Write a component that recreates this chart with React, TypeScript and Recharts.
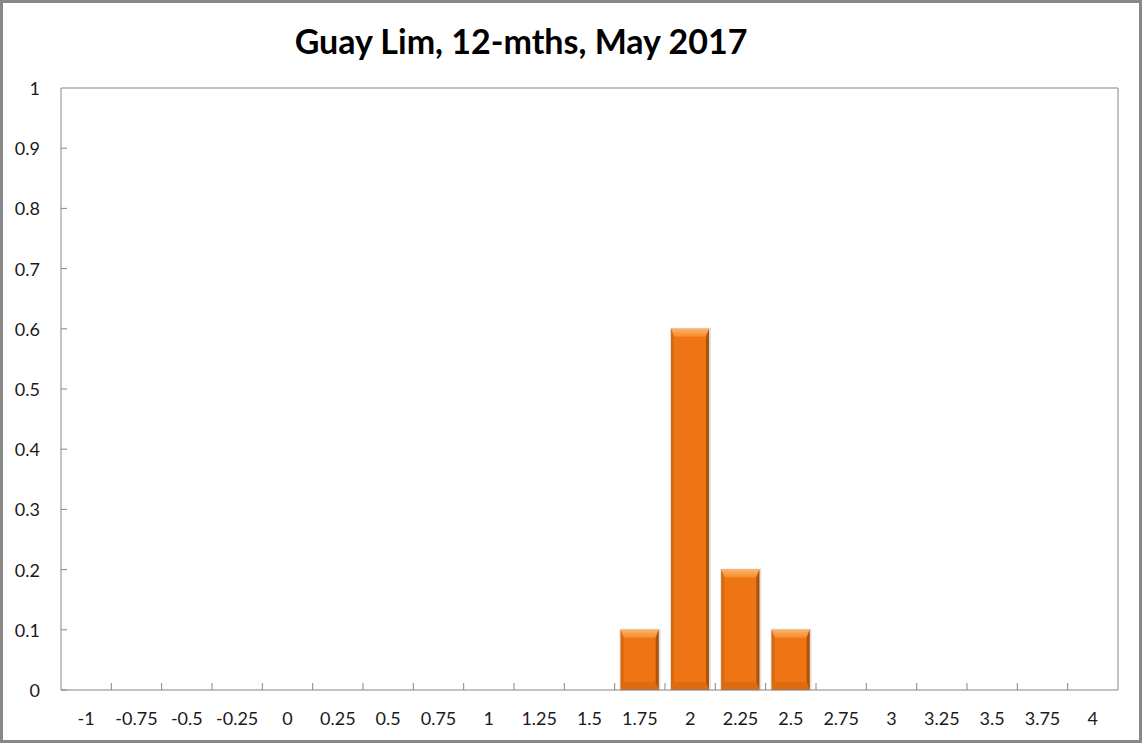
import React from "react";
import { BarChart, Bar, XAxis, YAxis, CartesianGrid } from "recharts";

// x categories (rate buckets) and share of forecasts in each one
const categories = [
  "-1", "-0.75", "-0.5", "-0.25", "0", "0.25", "0.5", "0.75", "1", "1.25", "1.5",
  "1.75", "2", "2.25", "2.5", "2.75", "3", "3.25", "3.5", "3.75", "4",
];
const shares = [0, 0, 0, 0, 0, 0, 0, 0, 0, 0, 0, 0.1, 0.6, 0.2, 0.1, 0, 0, 0, 0, 0, 0];
const yTicks = [0, 0.1, 0.2, 0.3, 0.4, 0.5, 0.6, 0.7, 0.8, 0.9, 1];

const title = "Guay Lim, 12-mths, May 2017";

const W = 1142;
const H = 743;
const AXIS = "#878787";
const FONT = "Lato, 'Open Sans', sans-serif";

const data = categories.map((c, i) => ({ cat: c, share: shares[i] }));

// band width of one category, used to put the x tick marks between bars
const band = (W - 61 - 24) / categories.length;

const BevelBar = (props: any) => {
  const { x, y, width: w, height: h } = props;
  if (!h || h <= 0) return null;
  const b = Math.min(8, h / 3);
  const s = 3;
  return (
    <g>
      <rect x={x - 1} y={y - 1} width={w + 3} height={h + 2} fill="rgba(0,0,0,0.12)" />
      <rect x={x} y={y} width={w} height={h} fill="#EF7413" />
      <polygon
        points={`${x},${y} ${x + w},${y} ${x + w - s},${y + b} ${x + s},${y + b}`}
        fill="url(#bevelTop)"
      />
      <polygon
        points={`${x},${y + h} ${x + s},${y + h - b} ${x + w - s},${y + h - b} ${x + w},${y + h}`}
        fill="#DE6B10"
      />
      <polygon
        points={`${x},${y} ${x + s},${y + b} ${x + s},${y + h - b} ${x},${y + h}`}
        fill="#D8690F"
      />
      <polygon
        points={`${x + w},${y} ${x + w - s},${y + b} ${x + w - s},${y + h - b} ${x + w},${y + h}`}
        fill="#A9530E"
      />
    </g>
  );
};

const YTick = (props: any) => {
  const { x, y, payload } = props;
  return (
    <g>
      {payload.value !== 1 && <line x1={x} x2={x + 6} y1={y} y2={y} stroke={AXIS} />}
      <text
        x={x - 21}
        y={y}
        textAnchor="end"
        dominantBaseline="central"
        fontFamily={FONT}
        fontSize={18}
        fill="#1a1a1a"
      >
        {payload.value}
      </text>
    </g>
  );
};

const XTick = (props: any) => {
  const { x, y, payload, index } = props;
  const tx = x - band / 2;
  return (
    <g>
      {index > 0 && <line x1={tx} x2={tx} y1={y} y2={y - 7} stroke={AXIS} />}
      <text
        x={x}
        y={y + 28}
        textAnchor="middle"
        dominantBaseline="central"
        fontFamily={FONT}
        fontSize={18}
        fill="#1a1a1a"
      >
        {payload.value}
      </text>
    </g>
  );
};

export default function App() {
  return (
    <div style={{ position: "absolute", left: 0, top: 0, width: W, height: H, background: "#fff" }}>
      <div
        style={{
          position: "absolute",
          left: 0,
          top: 20,
          width: 1042,
          textAlign: "center",
          fontFamily: FONT,
          fontWeight: 700,
          fontSize: 34,
          color: "#000",
        }}
      >
        {title}
      </div>
      <BarChart
        width={W}
        height={H}
        data={data}
        margin={{ top: 88, right: 24, bottom: 0, left: 0 }}
        barSize={38}
      >
        <defs>
          <linearGradient id="bevelTop" x1="0" y1="0" x2="0" y2="1">
            <stop offset="0%" stopColor="#FBB468" />
            <stop offset="100%" stopColor="#F58A2C" />
          </linearGradient>
        </defs>
        {/* top and right edges of the plot box */}
        <CartesianGrid
          stroke={AXIS}
          horizontalCoordinatesGenerator={({ offset }: any) => [offset.top]}
          verticalCoordinatesGenerator={({ offset }: any) => [offset.left + offset.width]}
        />
        <XAxis
          dataKey="cat"
          height={53}
          tickSize={0}
          tickMargin={0}
          interval={0}
          axisLine={{ stroke: AXIS }}
          tick={<XTick />}
        />
        <YAxis
          width={61}
          domain={[0, 1]}
          ticks={yTicks}
          tickSize={0}
          tickMargin={0}
          interval={0}
          axisLine={{ stroke: AXIS }}
          tick={<YTick />}
        />
        <Bar dataKey="share" shape={<BevelBar />} isAnimationActive={false} />
      </BarChart>
      <div
        style={{
          position: "absolute",
          left: 0,
          top: 0,
          width: W,
          height: H,
          boxSizing: "border-box",
          border: "3px solid #888",
          pointerEvents: "none",
        }}
      />
    </div>
  );
}
